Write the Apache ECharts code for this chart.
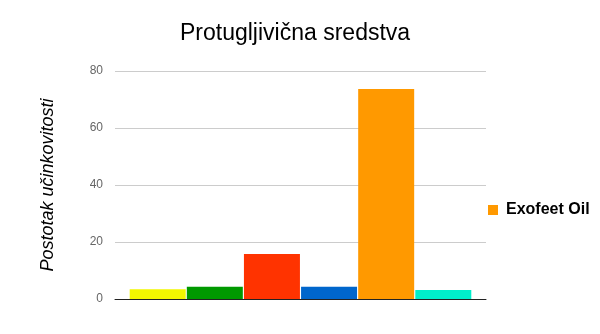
<!DOCTYPE html>
<html>
<head>
<meta charset="utf-8">
<script src="https://cdn.jsdelivr.net/npm/echarts@6/dist/echarts.min.js"></script>
<style>html,body{margin:0;padding:0;background:#fff}#c{width:600px;height:334px}</style>
</head>
<body>
<div id="c"></div>
<script>
var seriesNames = ['Sredstvo 1', 'Sredstvo 2', 'Sredstvo 3', 'Sredstvo 4', 'Exofeet Oil', 'Sredstvo 6'];
var seriesValues = [3.4, 4.3, 15.8, 4.3, 73.7, 3.2];
var seriesColors = ['#f2f700', '#009900', '#ff3300', '#0066cc', '#ff9900', '#00eecb'];
var legendNames = ['Exofeet Oil'];
var yTicks = [0, 20, 40, 60, 80];

var chart = echarts.init(document.getElementById('c'), null, {renderer: 'canvas'});
var series = seriesNames.map(function (n, i) {
  return {
    name: n,
    type: 'bar',
    data: [seriesValues[i]],
    barWidth: 56,
    barGap: '2%',
    itemStyle: {color: seriesColors[i]}
  };
});
chart.setOption({
  animation: false,
  backgroundColor: '#fff',
  title: {
    text: 'Protugljivična sredstva',
    left: 175,
    top: 17,
    textStyle: {fontFamily: 'Liberation Sans, Arial', fontSize: 23, fontWeight: 'normal', color: '#000'}
  },
  legend: {
    data: legendNames,
    left: 483,
    top: 197,
    icon: 'rect',
    itemWidth: 10,
    itemHeight: 10,
    textStyle: {fontFamily: 'Liberation Sans, Arial', fontSize: 16, fontWeight: 'bold', color: '#000', padding: [0, 0, 0, 3]}
  },
  grid: {left: 115, right: 114, top: 71, bottom: 35},
  xAxis: {
    type: 'category',
    data: [''],
    axisTick: {show: false},
    axisLabel: {show: false},
    axisLine: {lineStyle: {color: '#222', width: 1}}
  },
  yAxis: {
    type: 'value',
    min: yTicks[0],
    max: yTicks[yTicks.length - 1],
    interval: 20,
    name: 'Postotak učinkovitosti',
    nameLocation: 'middle',
    nameGap: 58,
    nameTextStyle: {fontFamily: 'Liberation Sans, Arial', fontSize: 18, fontStyle: 'italic', color: '#000'},
    axisLine: {show: false},
    axisTick: {show: false},
    axisLabel: {fontFamily: 'Liberation Sans, Arial', fontSize: 12, color: '#666', margin: 12},
    splitLine: {lineStyle: {color: '#cccccc'}}
  },
  series: series
});
</script>
</body>
</html>
